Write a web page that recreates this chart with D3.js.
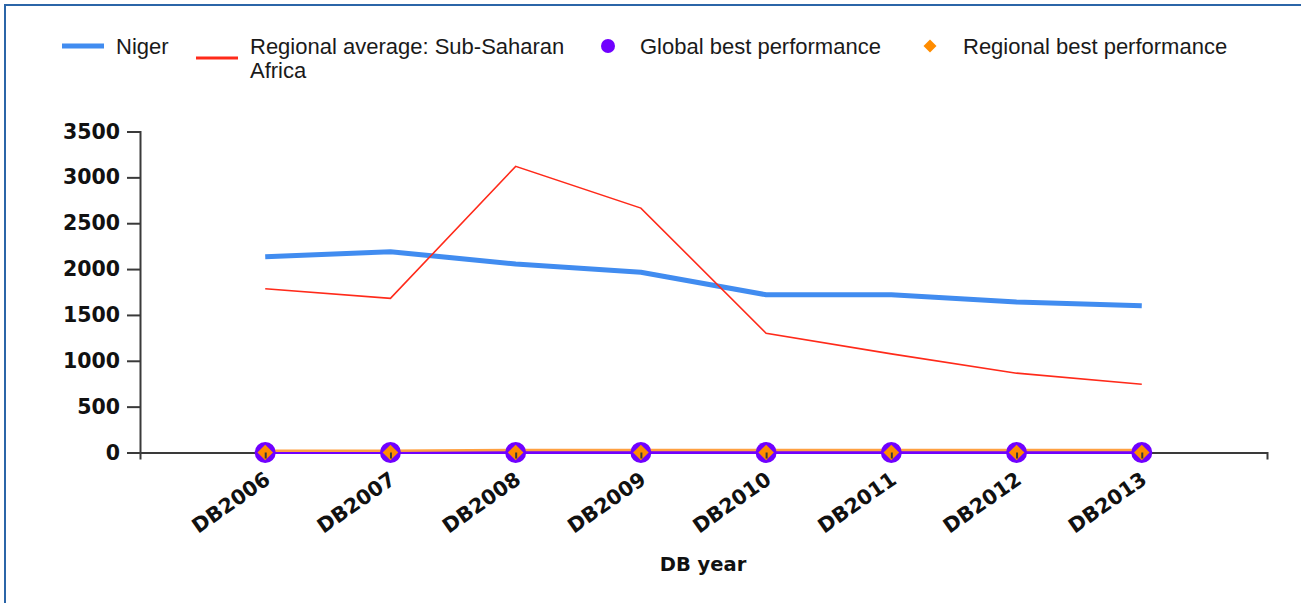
<!DOCTYPE html>
<html>
<head>
<meta charset="utf-8">
<script src="https://d3js.org/d3.v7.min.js"></script>
<style>
  body { margin: 0; background: #fff; }
  svg { display: block; }
  .axis text { font-family: "DejaVu Sans", Verdana, sans-serif; font-weight: bold; font-size: 20.5px; fill: #111; }
  .axis path, .axis line { stroke: #3a3a3a; stroke-width: 2; }
  .legend text { font-family: "Liberation Sans", Arial, sans-serif; font-size: 22px; fill: #1a1a1a; }
</style>
</head>
<body>
<svg id="chart" width="1301" height="603"></svg>
<script>
// chart data
var categories = ["DB2006", "DB2007", "DB2008", "DB2009", "DB2010", "DB2011", "DB2012", "DB2013"];
var niger = [2135, 2190, 2055, 1965, 1720, 1720, 1640, 1600];
var regionalAverage = [1785, 1680, 3120, 2665, 1300, 1075, 865, 745];
var globalBest = [0, 0, 0, 0, 0, 0, 0, 0];
var regionalBest = [18, 18, 28, 28, 28, 28, 28, 28];
var yTicks = [0, 500, 1000, 1500, 2000, 2500, 3000, 3500];

var legendItems = [
  {name: "Niger", lines: ["Niger"]},
  {name: "avg", lines: ["Regional average: Sub-Saharan", "Africa"]},
  {name: "global", lines: ["Global best performance"]},
  {name: "regional", lines: ["Regional best performance"]}
];

var svg = d3.select("#chart");

// outer frame (only top and left edges are inside the picture)
svg.append("rect")
  .attr("x", 5).attr("y", 5)
  .attr("width", 1400).attr("height", 700)
  .attr("fill", "none")
  .attr("stroke", "#2b65a8")
  .attr("stroke-width", 2);

var x = d3.scalePoint().domain(categories).range([140, 1267]).padding(1);
var y = d3.scaleLinear().domain([0, 3500]).range([452.5, 131.5]);

function diamond(cx, cy, r) {
  return "M" + cx + "," + (cy - r) + "L" + (cx + r) + "," + cy +
         "L" + cx + "," + (cy + r) + "L" + (cx - r) + "," + cy + "Z";
}

// legend
var lg = svg.append("g").attr("class", "legend");
lg.append("line").attr("x1", 62).attr("x2", 104).attr("y1", 46).attr("y2", 46)
  .attr("stroke", "#418cf0").attr("stroke-width", 5);
lg.append("line").attr("x1", 196).attr("x2", 238).attr("y1", 58).attr("y2", 58)
  .attr("stroke", "#ff2a1a").attr("stroke-width", 3);
lg.append("circle").attr("cx", 608).attr("cy", 46).attr("r", 7).attr("fill", "#7000ff");
lg.append("path").attr("d", diamond(930, 46, 6.5)).attr("fill", "#ff8c00");

var textX = [116, 250, 640, 963];
legendItems.forEach(function(item, i) {
  var t = lg.append("text").attr("x", textX[i]).attr("y", 54);
  item.lines.forEach(function(s, j) {
    t.append("tspan").attr("x", textX[i]).attr("dy", j === 0 ? 0 : 24).text(s);
  });
});

// axes
svg.append("g")
  .attr("class", "axis")
  .attr("transform", "translate(0," + y(0) + ")")
  .call(d3.axisBottom(x).tickSizeInner(5).tickSizeOuter(7).tickFormat(""));

svg.append("g")
  .attr("class", "axis")
  .attr("transform", "translate(140,0)")
  .call(d3.axisLeft(y).tickValues(yTicks).tickSize(13).tickPadding(7).tickFormat(d3.format("d")));

// series lines
var line = function(vals) {
  return d3.line()
    .x(function(d, i) { return x(categories[i]); })
    .y(function(d) { return y(d); })(vals);
};

svg.append("path").attr("d", line(niger))
  .attr("fill", "none").attr("stroke", "#418cf0").attr("stroke-width", 5)
  .attr("stroke-linejoin", "round");
svg.append("path").attr("d", line(regionalAverage))
  .attr("fill", "none").attr("stroke", "#ff2a1a").attr("stroke-width", 1.6);
svg.append("path").attr("d", line(globalBest))
  .attr("fill", "none").attr("stroke", "#7000ff").attr("stroke-width", 3);
svg.append("path").attr("d", line(regionalBest))
  .attr("fill", "none").attr("stroke", "#ffa040").attr("stroke-width", 2.5);

// markers
svg.append("g").selectAll("circle")
  .data(globalBest)
  .enter().append("circle")
  .attr("cx", function(d, i) { return x(categories[i]); })
  .attr("cy", function(d) { return y(d); })
  .attr("r", 10.5)
  .attr("fill", "#7000ff");

svg.append("g").selectAll("path")
  .data(regionalBest)
  .enter().append("path")
  .attr("d", function(d, i) { return diamond(x(categories[i]), y(0), 7.8); })
  .attr("fill", "#ff8c00");

// x ticks and labels on top of the markers
var xa = svg.append("g")
  .attr("class", "axis")
  .attr("transform", "translate(0," + y(0) + ")")
  .call(d3.axisBottom(x).tickSizeInner(6).tickSizeOuter(0));
xa.select(".domain").remove();
xa.selectAll(".tick text")
  .attr("text-anchor", "end")
  .attr("dy", 0)
  .attr("y", 0)
  .attr("transform", "translate(6,30) rotate(-35)");

// axis title
svg.append("text")
  .attr("x", 703).attr("y", 571)
  .attr("text-anchor", "middle")
  .style("font-family", "DejaVu Sans, Verdana, sans-serif")
  .style("font-weight", "bold")
  .style("font-size", "19.5px")
  .attr("fill", "#111")
  .text("DB year");
</script>
</body>
</html>
